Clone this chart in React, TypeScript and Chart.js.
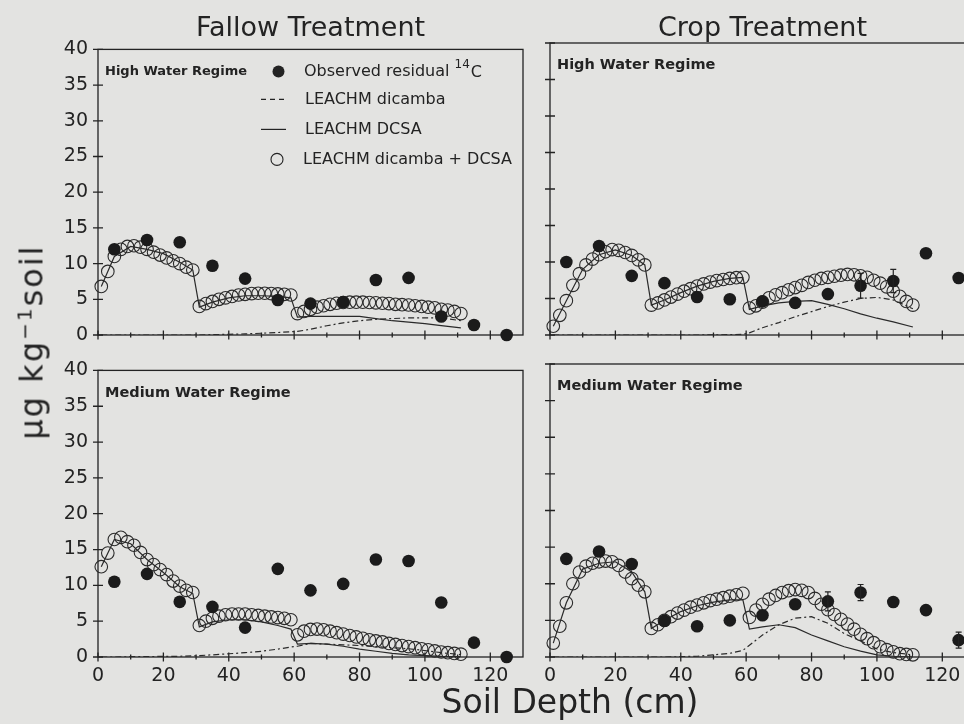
import React, { useEffect, useRef } from "react";
import { Chart, registerables } from "chart.js";

Chart.register(...registerables);

// ---------------- data ----------------
const OBS_DEPTH = [5, 15, 25, 35, 45, 55, 65, 75, 85, 95, 105, 115, 125];
const MODEL_DEPTH = [
  1, 3, 5, 7, 9, 11, 13, 15, 17, 19, 21, 23, 25, 27, 29,
  31, 33, 35, 37, 39, 41, 43, 45, 47, 49, 51, 53, 55, 57, 59,
  61, 63, 65, 67, 69, 71, 73, 75, 77, 79, 81, 83, 85, 87, 89, 91, 93, 95, 97, 99, 101, 103, 105, 107, 109, 111,
];
const LINE_DEPTH = [1, 5, 10, 15, 20, 25, 29, 31, 35, 40, 45, 50, 55, 59, 61, 65, 70, 75, 80, 85, 90, 95, 100, 105, 111];

const X_TICKS = [0, 20, 40, 60, 80, 100, 120];
const X_TICK_LABELS = ["0", "20", "40", "60", "80", "100", "120"];
const X_MINOR_TICKS = [10, 30, 50, 70, 90, 110];
const Y_TICKS = [0, 5, 10, 15, 20, 25, 30, 35, 40];
const Y_TICK_LABELS = ["0", "5", "10", "15", "20", "25", "30", "35", "40"];

const TREATMENTS = ["Fallow Treatment", "Crop Treatment"];
const REGIMES = ["High Water Regime", "Medium Water Regime"];
const LEGEND_LABELS = ["Observed residual", "LEACHM dicamba", "LEACHM DCSA", "LEACHM dicamba + DCSA"];
const X_TITLE = "Soil Depth (cm)";

// Fallow, high water
const FALLOW_HIGH_OBS = [12.0, 13.3, 13.0, 9.7, 7.9, 4.9, 4.4, 4.6, 7.7, 8.0, 2.6, 1.4, 0.0];
const FALLOW_HIGH_SUM = [
  6.8, 8.9, 11.0, 12.0, 12.4, 12.5, 12.3, 12.0, 11.6, 11.2, 10.8, 10.4, 10.0, 9.5, 9.1,
  4.0, 4.4, 4.7, 5.0, 5.2, 5.4, 5.6, 5.7, 5.8, 5.85, 5.85, 5.8, 5.75, 5.7, 5.6,
  3.0, 3.3, 3.6, 3.9, 4.1, 4.3, 4.45, 4.55, 4.6, 4.6, 4.6, 4.55, 4.5, 4.45, 4.4, 4.3, 4.25, 4.2, 4.1, 4.0, 3.9, 3.8, 3.6, 3.5, 3.3, 3.0,
];
const FALLOW_HIGH_DCSA = [6.8, 11.0, 12.4, 12.0, 11.4, 10.2, 9.1, 3.9, 4.6, 5.2, 5.5, 5.5, 5.4, 5.2, 2.5, 2.6, 2.6, 2.6, 2.6, 2.3, 2.0, 1.8, 1.6, 1.3, 1.0];
const FALLOW_HIGH_DICAMBA = [0, 0, 0, 0, 0, 0, 0, 0, 0.05, 0.1, 0.15, 0.25, 0.35, 0.45, 0.5, 0.8, 1.3, 1.7, 2.0, 2.2, 2.3, 2.4, 2.4, 2.4, 2.0];

// Fallow, medium water
const FALLOW_MED_OBS = [10.5, 11.6, 7.7, 7.0, 4.1, 12.3, 9.3, 10.2, 13.6, 13.4, 7.6, 2.0, 0.0];
const FALLOW_MED_SUM = [
  12.6, 14.5, 16.4, 16.7, 16.1, 15.6, 14.6, 13.6, 12.9, 12.2, 11.5, 10.6, 9.9, 9.3, 9.0,
  4.4, 5.0, 5.4, 5.7, 5.9, 6.0, 6.0, 6.0, 5.9, 5.8, 5.7, 5.6, 5.5, 5.4, 5.2,
  3.1, 3.6, 3.85, 3.9, 3.8, 3.6, 3.4, 3.2, 3.0, 2.8, 2.6, 2.4, 2.25, 2.1, 1.9, 1.75, 1.6, 1.45, 1.3, 1.15, 1.0, 0.85, 0.7, 0.6, 0.5, 0.4,
];
const FALLOW_MED_DCSA = [12.6, 16.4, 15.8, 13.6, 11.8, 9.8, 8.85, 4.2, 4.9, 5.2, 5.2, 4.9, 4.4, 3.9, 1.8, 1.9, 1.8, 1.5, 1.1, 0.8, 0.5, 0.3, 0.2, 0.1, 0.05];
const FALLOW_MED_DICAMBA = [0, 0, 0.05, 0.05, 0.1, 0.1, 0.15, 0.2, 0.3, 0.45, 0.6, 0.8, 1.1, 1.4, 1.5, 1.9, 1.8, 1.7, 1.6, 1.45, 1.3, 1.15, 0.9, 0.6, 0.35];

// Crop, high water
const CROP_HIGH_OBS = [10.0, 12.2, 8.1, 7.1, 5.2, 4.9, 4.6, 4.4, 5.6, 6.75, 7.4, 11.2, 7.8];
const CROP_HIGH_ERR = [0, 0, 0, 0, 0, 0, 0, 0, 0, 1.7, 1.6, 0, 0];
const CROP_HIGH_SUM = [
  1.2, 2.7, 4.7, 6.8, 8.4, 9.6, 10.4, 11.0, 11.4, 11.7, 11.6, 11.3, 10.9, 10.3, 9.6,
  4.1, 4.4, 4.8, 5.2, 5.6, 6.0, 6.35, 6.7, 7.0, 7.25, 7.45, 7.6, 7.75, 7.85, 7.9,
  3.7, 4.0, 4.5, 5.1, 5.5, 5.8, 6.2, 6.5, 6.8, 7.2, 7.5, 7.75, 7.9, 8.05, 8.2, 8.3, 8.25, 8.1, 7.9, 7.5, 7.1, 6.6, 6.0, 5.3, 4.6, 4.1,
];
const CROP_HIGH_DCSA = [1.2, 4.7, 9.0, 11.0, 11.65, 10.9, 9.6, 4.1, 4.8, 5.8, 6.7, 7.35, 7.75, 7.9, 3.5, 4.0, 4.4, 4.6, 4.7, 4.2, 3.6, 2.9, 2.3, 1.8, 1.1];
const CROP_HIGH_DICAMBA = [0, 0, 0, 0, 0, 0, 0, 0, 0, 0, 0, 0.02, 0.05, 0.1, 0.3, 1.0, 1.7, 2.5, 3.2, 3.9, 4.5, 5.0, 5.15, 4.8, 3.6];

// Crop, medium water
const CROP_MED_OBS = [13.4, 14.4, 12.7, 4.95, 4.2, 5.0, 5.7, 7.2, 7.6, 8.8, 7.5, 6.4, 2.3];
const CROP_MED_ERR = [0, 0, 0, 0, 0, 0, 0, 0, 1.3, 1.1, 0, 0, 1.1];
const CROP_MED_SUM = [
  1.9, 4.2, 7.4, 10.0, 11.6, 12.4, 12.8, 13.0, 13.1, 13.0, 12.5, 11.6, 10.7, 9.8, 8.9,
  3.9, 4.4, 5.0, 5.5, 6.0, 6.4, 6.8, 7.1, 7.4, 7.7, 7.9, 8.1, 8.3, 8.5, 8.7,
  5.4, 6.4, 7.2, 7.9, 8.4, 8.8, 9.05, 9.2, 9.1, 8.8, 8.0, 7.2, 6.45, 5.8, 5.15, 4.5, 3.8, 3.1, 2.5, 1.95, 1.4, 1.0, 0.7, 0.45, 0.35, 0.3,
];
const CROP_MED_DCSA = [1.9, 7.4, 12.0, 12.8, 13.0, 11.6, 8.9, 3.9, 5.0, 6.2, 7.0, 7.5, 7.8, 7.8, 3.8, 4.1, 4.4, 4.0, 3.0, 2.2, 1.4, 0.8, 0.3, 0.1, 0.0];
const CROP_MED_DICAMBA = [0, 0, 0, 0, 0, 0, 0, 0, 0, 0.05, 0.1, 0.3, 0.5, 0.9, 1.6, 3.0, 4.4, 5.3, 5.5, 4.6, 3.2, 2.2, 1.1, 0.6, 0.3];

// ---------------- layout / style ----------------
const INK = "#232323";
const FONT = '"DejaVu Sans", sans-serif';
const BG = "#e3e3e1";
const YW = 70;
const PT = 15;
const PR = 12;
const XH = 40;
const PLOT_W = 425;

type Panel = {
  left: number;
  top: number;
  h: number;
  xLabels: boolean;
  yLabels: boolean;
  regime: string;
  regimeSize: number;
  legend: boolean;
  obs: number[];
  err: number[] | null;
  sum: number[];
  dcsa: number[];
  dicamba: number[];
};

const PANELS: Panel[] = [
  { left: 98, top: 43, h: 292, xLabels: false, yLabels: true, regime: REGIMES[0], regimeSize: 13, legend: true,
    obs: FALLOW_HIGH_OBS, err: null, sum: FALLOW_HIGH_SUM, dcsa: FALLOW_HIGH_DCSA, dicamba: FALLOW_HIGH_DICAMBA },
  { left: 98, top: 364, h: 293, xLabels: true, yLabels: true, regime: REGIMES[1], regimeSize: 14.5, legend: false,
    obs: FALLOW_MED_OBS, err: null, sum: FALLOW_MED_SUM, dcsa: FALLOW_MED_DCSA, dicamba: FALLOW_MED_DICAMBA },
  { left: 550, top: 43, h: 292, xLabels: false, yLabels: false, regime: REGIMES[0], regimeSize: 14.5, legend: false,
    obs: CROP_HIGH_OBS, err: CROP_HIGH_ERR, sum: CROP_HIGH_SUM, dcsa: CROP_HIGH_DCSA, dicamba: CROP_HIGH_DICAMBA },
  { left: 550, top: 364, h: 293, xLabels: true, yLabels: false, regime: REGIMES[1], regimeSize: 14.5, legend: false,
    obs: CROP_MED_OBS, err: CROP_MED_ERR, sum: CROP_MED_SUM, dcsa: CROP_MED_DCSA, dicamba: CROP_MED_DICAMBA },
];

const DASH = [6, 3, 2, 3];

function decor(p: Panel) {
  return {
    id: "decor",
    beforeDatasetsDraw(chart: any) {
      const { ctx, chartArea: a, scales } = chart;
      const xs = scales.x;
      const ys = scales.y;
      ctx.save();
      ctx.strokeStyle = INK;
      ctx.lineWidth = 1.3;
      ctx.strokeRect(a.left, a.top, a.right - a.left, a.bottom - a.top);
      ctx.beginPath();
      Y_TICKS.forEach((v) => {
        const y = ys.getPixelForValue(v);
        ctx.moveTo(a.left - 5, y);
        ctx.lineTo(a.left + 5, y);
      });
      X_TICKS.forEach((v) => {
        const x = xs.getPixelForValue(v);
        ctx.moveTo(x, a.bottom - 4.5);
        ctx.lineTo(x, a.bottom + 4.5);
      });
      X_MINOR_TICKS.forEach((v) => {
        const x = xs.getPixelForValue(v);
        ctx.moveTo(x, a.bottom - 2.5);
        ctx.lineTo(x, a.bottom + 2.5);
      });
      ctx.stroke();
      ctx.restore();
    },
    afterDatasetsDraw(chart: any) {
      const { ctx, chartArea: a, scales } = chart;
      const xs = scales.x;
      const ys = scales.y;
      ctx.save();
      ctx.strokeStyle = INK;
      ctx.fillStyle = INK;
      ctx.lineWidth = 1.2;
      // error bars
      if (p.err) {
        p.err.forEach((e, i) => {
          if (!e) return;
          const x = xs.getPixelForValue(OBS_DEPTH[i]);
          const y1 = ys.getPixelForValue(p.obs[i] - e);
          const y2 = ys.getPixelForValue(p.obs[i] + e);
          ctx.beginPath();
          ctx.moveTo(x, y1);
          ctx.lineTo(x, y2);
          ctx.moveTo(x - 3, y1);
          ctx.lineTo(x + 3, y1);
          ctx.moveTo(x - 3, y2);
          ctx.lineTo(x + 3, y2);
          ctx.stroke();
        });
      }
      // regime label
      ctx.textBaseline = "middle";
      ctx.textAlign = "left";
      ctx.font = `bold ${p.regimeSize}px ${FONT}`;
      ctx.fillText(p.regime, a.left + 7, a.top + 22.5);
      // legend
      if (p.legend) {
        const L = a.left;
        const T = a.top;
        const rows = [22, 50, 80, 110];
        const tx = L + 206;
        ctx.font = `16px ${FONT}`;
        // observed
        ctx.beginPath();
        ctx.arc(L + 180.5, T + rows[0], 6, 0, Math.PI * 2);
        ctx.fill();
        const t0 = LEGEND_LABELS[0] + " ";
        ctx.fillText(t0, tx, T + rows[0]);
        const w0 = ctx.measureText(t0).width;
        ctx.font = `12px ${FONT}`;
        ctx.fillText("14", tx + w0, T + rows[0] - 7);
        const w1 = ctx.measureText("14").width;
        ctx.font = `16px ${FONT}`;
        ctx.fillText("C", tx + w0 + w1 + 1, T + rows[0] + 1);
        // dicamba
        ctx.beginPath();
        ctx.setLineDash([5, 4]);
        ctx.moveTo(L + 163, T + rows[1]);
        ctx.lineTo(L + 188, T + rows[1]);
        ctx.stroke();
        ctx.setLineDash([]);
        ctx.fillText(LEGEND_LABELS[1], tx + 1, T + rows[1]);
        // DCSA
        ctx.beginPath();
        ctx.moveTo(L + 163, T + rows[2]);
        ctx.lineTo(L + 188, T + rows[2]);
        ctx.stroke();
        ctx.fillText(LEGEND_LABELS[2], tx + 1, T + rows[2]);
        // sum
        ctx.beginPath();
        ctx.lineWidth = 1.1;
        ctx.arc(L + 179, T + rows[3], 6, 0, Math.PI * 2);
        ctx.stroke();
        ctx.fillText(LEGEND_LABELS[3], tx - 1, T + rows[3]);
      }
      ctx.restore();
    },
  };
}

export default function App() {
  const refs = useRef<(HTMLCanvasElement | null)[]>([]);

  useEffect(() => {
    const tickFont = { family: FONT, size: 19 };
    const charts = PANELS.map((p, i) => {
      const canvas = refs.current[i] as HTMLCanvasElement;
      return new Chart(canvas, {
        type: "scatter",
        data: {
          datasets: [
            {
              label: LEGEND_LABELS[0],
              data: OBS_DEPTH.map((x, k) => ({ x, y: p.obs[k] })),
              pointRadius: 6.3,
              pointBackgroundColor: "#1b1b1b",
              pointBorderColor: "#1b1b1b",
              pointBorderWidth: 0,
              showLine: false,
              clip: false,
            } as any,
            {
              label: LEGEND_LABELS[3],
              data: MODEL_DEPTH.map((x, k) => ({ x, y: p.sum[k] })),
              pointRadius: 6.3,
              pointBackgroundColor: "rgba(0,0,0,0)",
              pointBorderColor: "#2a2a2a",
              pointBorderWidth: 1.1,
              showLine: false,
              clip: false,
            } as any,
            {
              label: LEGEND_LABELS[2],
              data: LINE_DEPTH.map((x, k) => ({ x, y: p.dcsa[k] })),
              showLine: true,
              pointRadius: 0,
              borderColor: "#2a2a2a",
              borderWidth: 1.2,
              tension: 0,
            } as any,
            {
              label: LEGEND_LABELS[1],
              data: LINE_DEPTH.map((x, k) => ({ x, y: p.dicamba[k] })),
              showLine: true,
              pointRadius: 0,
              borderColor: "#2a2a2a",
              borderWidth: 1.2,
              borderDash: DASH,
              tension: 0,
            } as any,
          ],
        },
        options: {
          animation: false,
          responsive: false,
          devicePixelRatio: 1,
          events: [],
          layout: { padding: { top: PT, right: PR, left: 0, bottom: 0 } },
          plugins: { legend: { display: false }, tooltip: { enabled: false }, title: { display: false } },
          scales: {
            x: {
              type: "linear",
              min: 0,
              max: 130,
              grid: { display: false, drawTicks: false, tickLength: 0 },
              border: { display: false },
              afterBuildTicks: (s: any) => {
                s.ticks = X_TICKS.map((v) => ({ value: v }));
              },
              afterFit: (s: any) => {
                s.height = XH;
              },
              ticks: {
                display: p.xLabels,
                padding: 8,
                font: tickFont,
                color: INK,
                autoSkip: false,
                maxRotation: 0,
                callback: (_v: any, idx: number) => X_TICK_LABELS[idx],
              },
            },
            y: {
              type: "linear",
              min: 0,
              max: 40,
              grid: { display: false, drawTicks: false, tickLength: 0 },
              border: { display: false },
              afterBuildTicks: (s: any) => {
                s.ticks = Y_TICKS.map((v) => ({ value: v }));
              },
              afterFit: (s: any) => {
                s.width = YW;
              },
              ticks: {
                display: p.yLabels,
                padding: 10,
                font: tickFont,
                color: INK,
                autoSkip: false,
                callback: (_v: any, idx: number) => Y_TICK_LABELS[idx],
              },
            },
          },
        } as any,
        plugins: [decor(p)],
      });
    });
    return () => charts.forEach((c) => c.destroy());
  }, []);

  return (
    <div
      style={{
        position: "fixed",
        left: 0,
        top: 0,
        width: 964,
        height: 724,
        overflow: "hidden",
        background: BG,
        fontFamily: FONT,
        color: INK,
      }}
    >
      {PANELS.map((p, i) => {
        const w = YW + PLOT_W + PR;
        const h = PT + p.h + XH;
        return (
          <canvas
            key={i}
            ref={(el) => {
              refs.current[i] = el;
            }}
            width={w}
            height={h}
            style={{ position: "absolute", left: p.left - YW, top: p.top - PT, width: w, height: h }}
          />
        );
      })}
      <div style={{ position: "absolute", left: 310.5, top: 26, transform: "translate(-50%,-50%)", fontSize: 27, lineHeight: 1, whiteSpace: "nowrap" }}>
        {TREATMENTS[0]}
      </div>
      <div style={{ position: "absolute", left: 762.5, top: 26, transform: "translate(-50%,-50%)", fontSize: 27, lineHeight: 1, whiteSpace: "nowrap" }}>
        {TREATMENTS[1]}
      </div>
      <div style={{ position: "absolute", left: 570, top: 701, transform: "translate(-50%,-50%)", fontSize: 33, lineHeight: 1, whiteSpace: "nowrap" }}>
        {X_TITLE}
      </div>
      <div
        style={{
          position: "absolute",
          left: 31,
          top: 342,
          transform: "translate(-50%,-50%) rotate(-90deg)",
          fontSize: 32,
          lineHeight: 1,
          letterSpacing: 2,
          whiteSpace: "nowrap",
        }}
      >
        μg kg<span style={{ fontSize: 20, verticalAlign: "0.55em" }}>−1</span>soil
      </div>
    </div>
  );
}
